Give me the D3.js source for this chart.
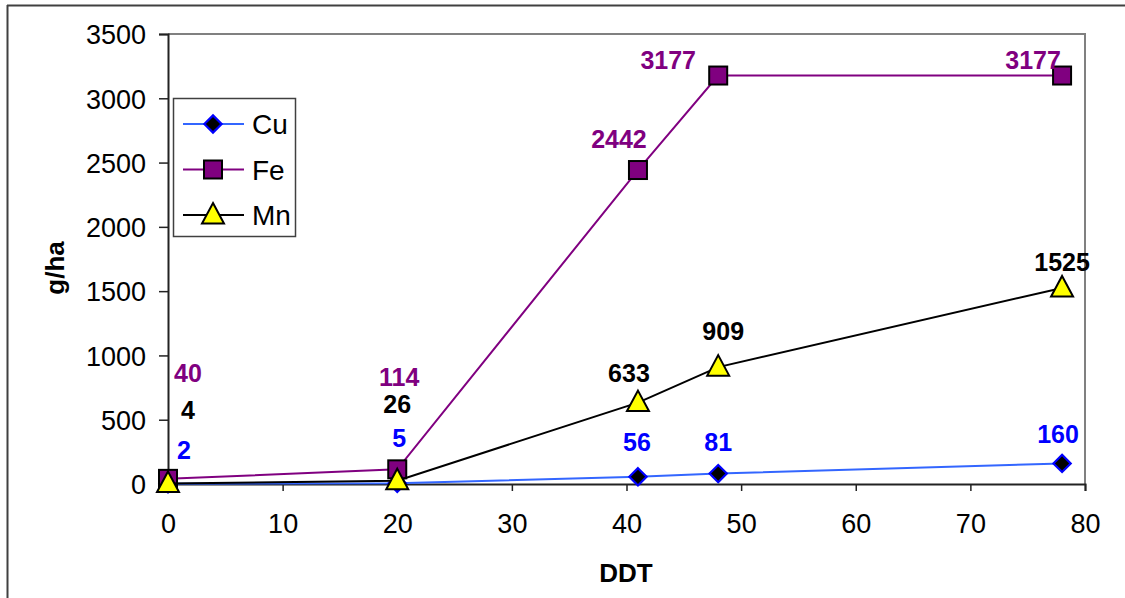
<!DOCTYPE html>
<html>
<head>
<meta charset="utf-8">
<script src="https://cdn.jsdelivr.net/npm/d3@7"></script>
<style>
  html, body { margin: 0; padding: 0; background: #fff; }
  svg { display: block; font-family: "Liberation Sans", Arial, sans-serif; }
</style>
</head>
<body>
<svg id="chart" width="1125" height="598"></svg>
<script>
// ---- data ----
const ddt = [0, 20, 41, 48, 78];
const seriesNames = ["Cu", "Fe", "Mn"];
const cuValues = [2, 5, 56, 81, 160];
const feValues = [40, 114, 2442, 3177, 3177];
const mnValues = [4, 26, 633, 909, 1525];
const xTicks = [0, 10, 20, 30, 40, 50, 60, 70, 80];
const yTicks = [0, 500, 1000, 1500, 2000, 2500, 3000, 3500];

// label nudges (pixel offsets of label centre from marker), layout only
const cuLabelNudge = [[16, -34], [2, -45], [-1, -35], [0, -32], [-4, -29]];
const feLabelNudge = [[20, -106], [2, -92], [-19, -31], [-50, -16], [-29, -16]];
const mnLabelNudge = [[20, -73], [0, -77], [-9, -30], [5, -36], [0, -26]];

const svg = d3.select("#chart");
const W = 1125, H = 598;
const FONT = "Liberation Sans, Arial, sans-serif";

const x = d3.scaleLinear().domain([0, 80]).range([168, 1085]);
const y = d3.scaleLinear().domain([0, 3500]).range([484, 34]);

// outer chart border
svg.append("line").attr("x1", 7).attr("x2", W).attr("y1", 5.5).attr("y2", 5.5)
  .attr("stroke", "#404040").attr("stroke-width", 2);
svg.append("line").attr("x1", 7.5).attr("x2", 7.5).attr("y1", 5).attr("y2", H)
  .attr("stroke", "#404040").attr("stroke-width", 2);

// plot area border (top & right)
svg.append("path")
  .attr("d", `M${x(0)},${y(3500)}H${x(80)}V${y(0)}`)
  .attr("fill", "none").attr("stroke", "#808080").attr("stroke-width", 2);

// axes
const yAxis = d3.axisLeft(y).tickValues(yTicks).tickSize(9).tickPadding(13).tickFormat(d3.format("d"));
const gy = svg.append("g").attr("transform", `translate(${x(0)},0)`).call(yAxis);
const xAxis = d3.axisBottom(x).tickValues(xTicks).tickSize(7).tickPadding(23).tickFormat(d3.format("d"));
const gx = svg.append("g").attr("transform", `translate(0,${y(0)})`).call(xAxis);
[gx, gy].forEach(g => {
  g.attr("font-family", FONT).attr("font-size", 27);
  g.select(".domain").attr("stroke", "#222").attr("stroke-width", 2);
  g.selectAll(".tick line").attr("stroke", "#222").attr("stroke-width", 1.5);
  g.selectAll(".tick text").attr("fill", "#000");
});
gy.selectAll(".tick text").attr("dy", "0.36em");

// axis titles
svg.append("text").attr("x", 626).attr("y", 582).attr("text-anchor", "middle")
  .attr("font-size", 26).attr("font-weight", "bold").text("DDT");
svg.append("text").attr("transform", "translate(64,268) rotate(-90)")
  .attr("text-anchor", "middle").attr("font-size", 26).attr("font-weight", "bold").text("g/ha");

// markers
const markers = {
  Cu: g => g.append("path").attr("d", d3.symbol(d3.symbolDiamond2, 190)())
    .attr("fill", "#000").attr("stroke", "#0000ff").attr("stroke-width", 2.2),
  Fe: g => g.append("rect").attr("x", -9).attr("y", -9).attr("width", 18).attr("height", 18)
    .attr("fill", "#800080").attr("stroke", "#000").attr("stroke-width", 2),
  Mn: g => g.append("path").attr("d", "M0,-12L11,8.5L-11,8.5Z")
    .attr("fill", "#ffff00").attr("stroke", "#000").attr("stroke-width", 2)
};

const series = [
  { name: "Cu", values: cuValues, line: "#3366ff", label: "#0000ff", nudge: cuLabelNudge },
  { name: "Fe", values: feValues, line: "#800080", label: "#800080", nudge: feLabelNudge },
  { name: "Mn", values: mnValues, line: "#000000", label: "#000000", nudge: mnLabelNudge }
];

const line = d3.line().x(d => x(d[0])).y(d => y(d[1]));

series.forEach(s => {
  const pts = ddt.map((d, i) => [d, s.values[i]]);
  const g = svg.append("g");
  g.append("path").attr("d", line(pts)).attr("fill", "none")
    .attr("stroke", s.line).attr("stroke-width", 2);
  pts.forEach(p => {
    const mg = g.append("g").attr("transform", `translate(${x(p[0])},${y(p[1])})`);
    markers[s.name](mg);
  });
});

// data labels on top
series.forEach(s => {
  ddt.forEach((d, i) => {
    svg.append("text")
      .attr("x", x(d) + s.nudge[i][0])
      .attr("y", y(s.values[i]) + s.nudge[i][1])
      .attr("dy", "0.36em")
      .attr("text-anchor", "middle")
      .attr("font-size", 25).attr("font-weight", "bold")
      .attr("fill", s.label)
      .text(s.values[i]);
  });
});

// legend
const lg = svg.append("g");
lg.append("rect").attr("x", 173.5).attr("y", 98.5).attr("width", 122).attr("height", 138)
  .attr("fill", "#fff").attr("stroke", "#404040").attr("stroke-width", 1.5);
series.forEach((s, i) => {
  const yy = 124 + i * 45.5;
  lg.append("line").attr("x1", 183).attr("x2", 244).attr("y1", yy).attr("y2", yy)
    .attr("stroke", s.line).attr("stroke-width", 2);
  const mg = lg.append("g").attr("transform", `translate(213,${yy})`);
  markers[s.name](mg);
  lg.append("text").attr("x", 252).attr("y", yy).attr("dy", "0.36em")
    .attr("font-size", 28).attr("fill", "#000").text(s.name);
});
</script>
</body>
</html>
